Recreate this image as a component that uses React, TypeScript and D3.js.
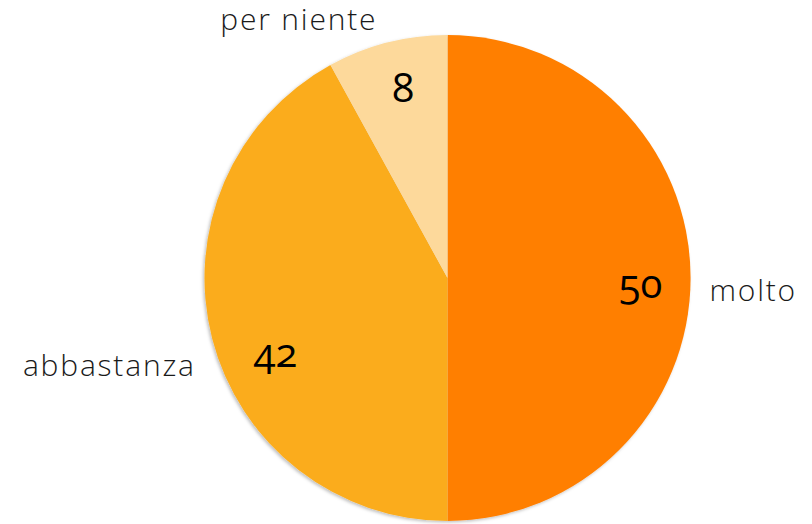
import React, { useEffect, useRef } from "react";
import * as d3 from "d3";

const categories = ["molto", "abbastanza", "per niente"];
const values = [50, 42, 8];
const colors = ["#FF7F00", "#FBAC1E", "#FDD99B"];

// small nudges for the labels (Excel "best fit" placement)
const valueNudge: Record<string, [number, number]> = {
  molto: [3, 6],
  abbastanza: [12, 28],
  "per niente": [3, -6],
};
const catNudge: Record<string, [number, number]> = {
  molto: [0, 12],
  abbastanza: [2, 22],
  "per niente": [-5, -5],
};

const App = () => {
  const svgRef = useRef<SVGSVGElement>(null);

  useEffect(() => {
    const width = 812;
    const height = 524;
    const cx = 447.5;
    const cy = 278;
    const radius = 243;

    const svg = d3.select(svgRef.current);
    svg.selectAll("*").remove();
    svg.attr("width", width).attr("height", height);

    const defs = svg.append("defs");
    const filter = defs
      .append("filter")
      .attr("id", "shadow")
      .attr("x", "-10%")
      .attr("y", "-10%")
      .attr("width", "120%")
      .attr("height", "120%");
    filter
      .append("feDropShadow")
      .attr("dx", -1.5)
      .attr("dy", 1.5)
      .attr("stdDeviation", 1.5)
      .attr("flood-color", "#000")
      .attr("flood-opacity", 0.25);

    const data = categories.map((c, i) => ({ cat: c, value: values[i], color: colors[i] }));

    const pie = d3
      .pie<any>()
      .value((d) => d.value)
      .sort(null);
    const arcs = pie(data);

    const arc = d3.arc<any>().innerRadius(0).outerRadius(radius);
    const labelArc = d3.arc<any>().innerRadius(190).outerRadius(190);
    const outerArc = d3.arc<any>().innerRadius(262).outerRadius(262);

    const g = svg.append("g").attr("transform", `translate(${cx},${cy})`);

    g.append("g")
      .attr("filter", "url(#shadow)")
      .selectAll("path")
      .data(arcs)
      .enter()
      .append("path")
      .attr("d", arc)
      .attr("fill", (d) => d.data.color);

    // value labels
    g.selectAll(".val")
      .data(arcs)
      .enter()
      .append("text")
      .attr("class", "val")
      .attr("x", (d) => labelArc.centroid(d)[0] + valueNudge[d.data.cat][0])
      .attr("y", (d) => labelArc.centroid(d)[1] + valueNudge[d.data.cat][1])
      .attr("text-anchor", "middle")
      .attr("dy", "0.35em")
      .style("font-family", "'Open Sans', Lato, sans-serif")
      .style("font-size", "40px")
      .style("font-weight", 400)
      .style("font-variant-numeric", "oldstyle-nums")
      .style("fill", "#000")
      .text((d) => d.data.value);

    // category labels
    g.selectAll(".cat")
      .data(arcs)
      .enter()
      .append("text")
      .attr("class", "cat")
      .attr("x", (d) => outerArc.centroid(d)[0] + catNudge[d.data.cat][0])
      .attr("y", (d) => outerArc.centroid(d)[1] + catNudge[d.data.cat][1])
      .attr("dy", "0.35em")
      .attr("text-anchor", (d) => ((d.startAngle + d.endAngle) / 2 < Math.PI ? "start" : "end"))
      .style("font-family", "'Open Sans', Lato, sans-serif")
      .style("font-size", "30px")
      .style("font-weight", 300)
      .style("letter-spacing", "1.8px")
      .style("fill", "#1a1a1a")
      .text((d) => d.data.cat);
  }, []);

  return (
    <div style={{ position: "absolute", left: 0, top: 0 }}>
      <svg ref={svgRef}></svg>
    </div>
  );
};

export default App;
